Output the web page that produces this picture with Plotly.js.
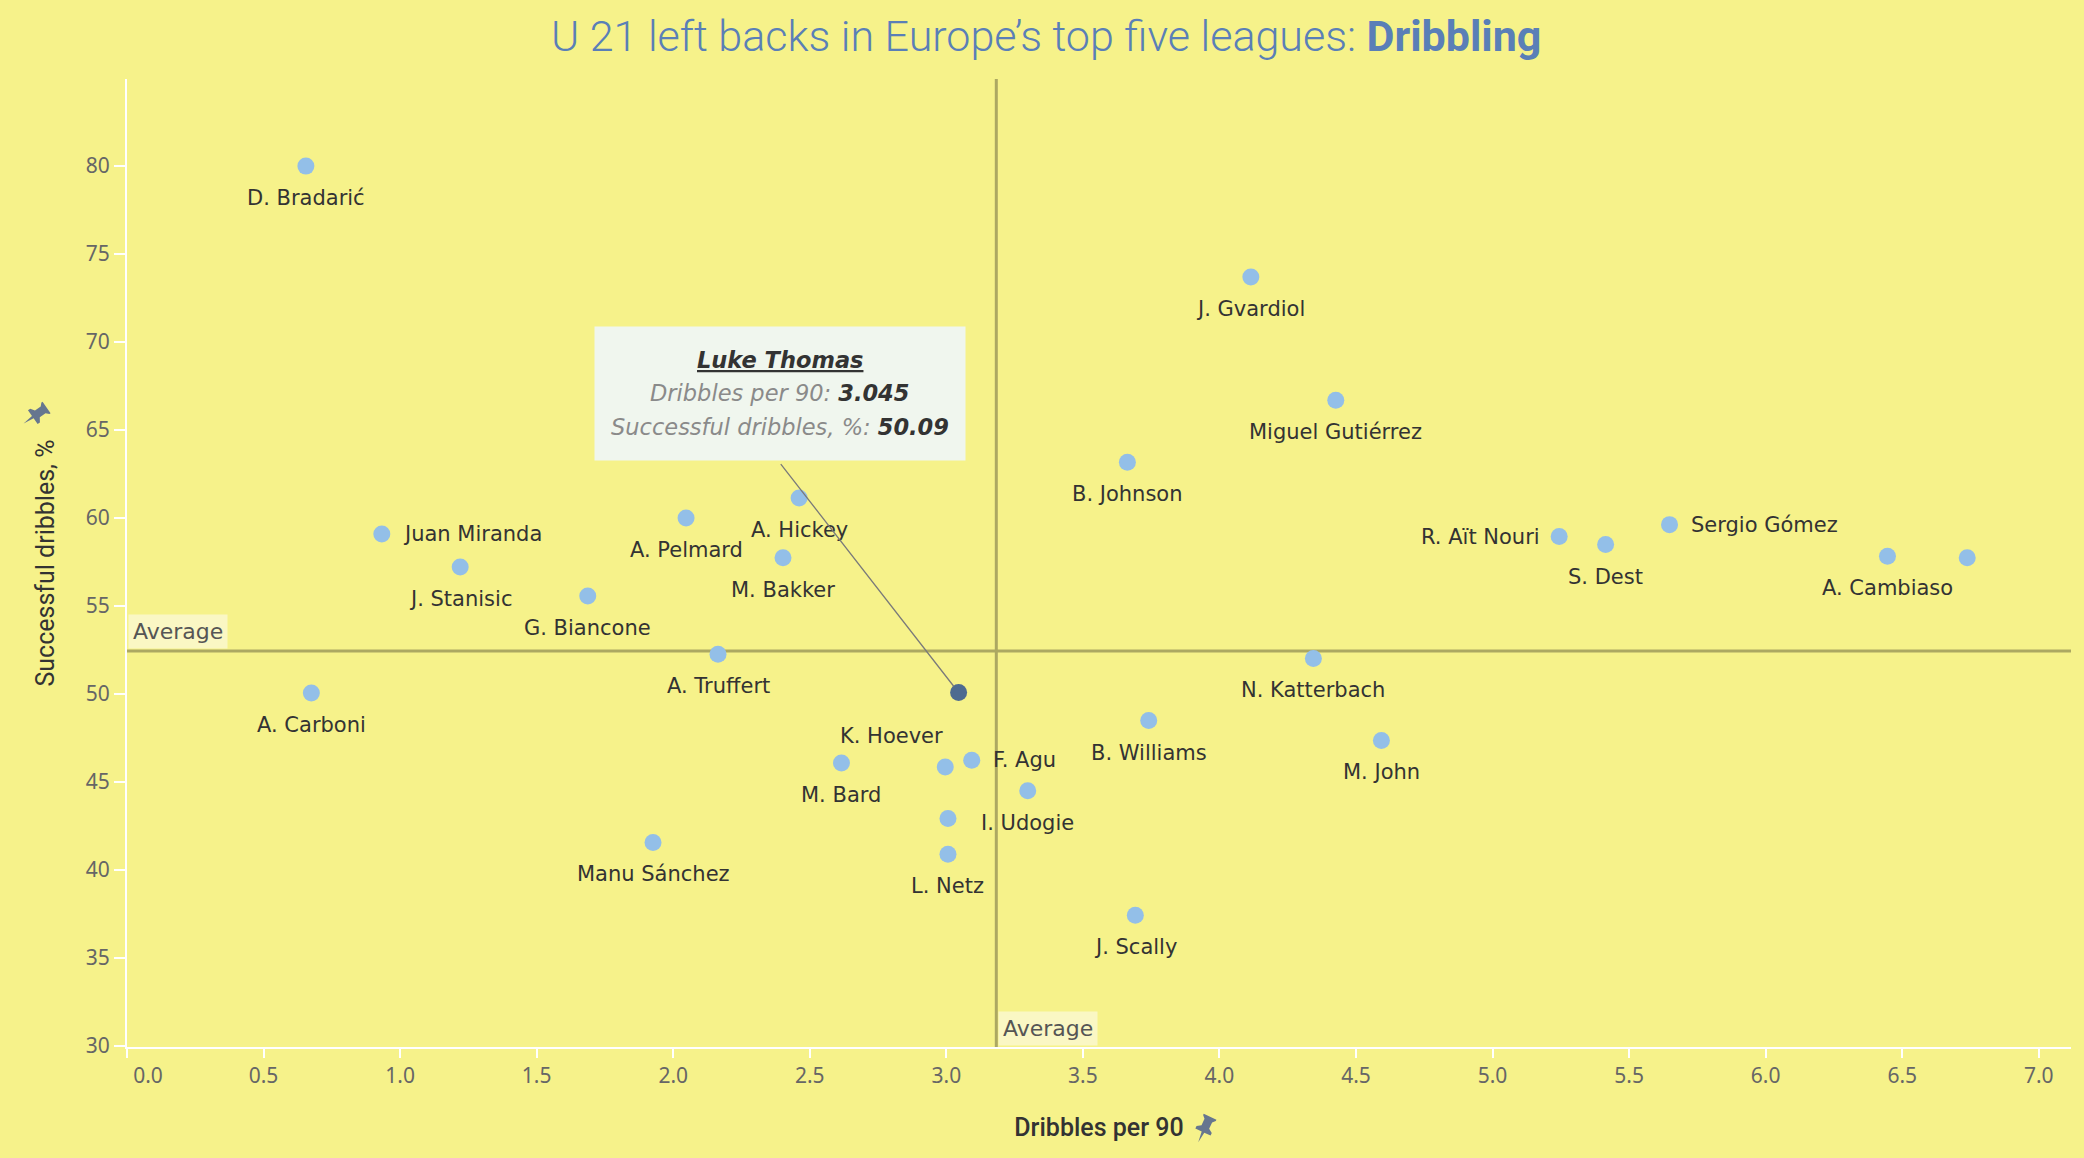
<!DOCTYPE html>
<html>
<head>
<meta charset="utf-8">
<script src="https://cdn.plot.ly/plotly-3.0.1.min.js"></script>
<style>html,body{margin:0;padding:0;background:#f6f28a;}</style>
</head>
<body>
<div id="chart" style="width:2084px;height:1158px;"></div>
<script>
// ---- Data ----
const players = [
  "D. Bradarić", "J. Gvardiol", "Miguel Gutiérrez", "B. Johnson", "Sergio Gómez",
  "R. Aït Nouri", "S. Dest", "A. Cambiaso", "", "Juan Miranda",
  "J. Stanisic", "A. Pelmard", "A. Hickey", "M. Bakker", "G. Biancone",
  "A. Truffert", "A. Carboni", "Luke Thomas", "K. Hoever", "F. Agu",
  "M. Bard", "I. Udogie", "", "L. Netz", "Manu Sánchez",
  "J. Scally", "B. Williams", "N. Katterbach", "M. John"
];
const dribblesPer90 = [
  0.655, 4.115, 4.426, 3.663, 5.648,
  5.244, 5.414, 6.446, 6.738, 0.933,
  1.220, 2.047, 2.461, 2.402, 1.687,
  2.164, 0.675, 3.045, 2.996, 3.093,
  2.616, 3.298, 3.006, 3.006, 1.926,
  3.692, 3.741, 4.344, 4.593
];
const successPct = [
  80.0, 73.7, 66.7, 63.17, 59.63,
  58.95, 58.5, 57.83, 57.75, 59.1,
  57.22, 60.01, 61.14, 57.75, 55.57,
  52.26, 50.07, 50.09, 45.86, 46.24,
  46.09, 44.51, 42.93, 40.9, 41.57,
  37.43, 48.5, 52.03, 47.37
];
// where each name label sits relative to its point (b = below, r = right, l = left, tl = above-left)
const labelPos = [
  "b","b","b","b","r",
  "l","b","b","","r",
  "b","b","b","b","b",
  "b","b","","tl","r",
  "b","b","","b","b",
  "b","b","b","b"
];
const xTicks = [0,0.5,1,1.5,2,2.5,3,3.5,4,4.5,5,5.5,6,6.5,7];
const yTicks = [30,35,40,45,50,55,60,65,70,75,80];
const avgDribbles = 3.183;
const avgSuccess = 52.45;
const highlighted = "Luke Thomas";

// ---- Styling ----
const BG = "#f6f28a";
const FONT = "Noto Sans, Open Sans, sans-serif";
const LFONT = "DejaVu Sans, Noto Sans, sans-serif";
const hi = players.indexOf(highlighted);

const colors = players.map((p, i) => i === hi ? "#4e6b90" : "#93bfe8");

const trace = {
  type: "scatter",
  mode: "markers",
  x: dribblesPer90,
  y: successPct,
  text: players,
  hoverinfo: "none",
  marker: { color: colors, size: 17, opacity: 1, line: { width: 0 } },
  cliponaxis: false
};

const annotations = [];
players.forEach((name, i) => {
  if (!name || !labelPos[i]) return;
  const a = {
    x: dribblesPer90[i], y: successPct[i], xref: "x", yref: "y",
    text: name, showarrow: false,
    font: { family: LFONT, size: 21, color: "#333333" },
    xanchor: "center", yanchor: "middle"
  };
  const p = labelPos[i];
  if (p === "b") { a.yshift = -32; }
  else if (p === "r") { a.xanchor = "left"; a.xshift = 19; }
  else if (p === "l") { a.xanchor = "right"; a.xshift = -17; }
  else if (p === "tl") { a.xshift = -54; a.yshift = 31; }
  annotations.push(a);
});

// Average labels
annotations.push({
  x: 0, xref: "paper", y: avgSuccess, yref: "y",
  text: "Average", showarrow: false, xanchor: "left", yanchor: "bottom",
  xshift: 1, yshift: 2, bgcolor: "#faf7c4", borderpad: 4,
  font: { family: LFONT, size: 22, color: "#555555" }
});
annotations.push({
  x: avgDribbles, xref: "x", y: 0, yref: "paper",
  text: "Average", showarrow: false, xanchor: "left", yanchor: "bottom",
  xshift: 2, yshift: 1, bgcolor: "#faf7c4", borderpad: 4,
  font: { family: LFONT, size: 22, color: "#555555" }
});

// Tooltip for highlighted player
const hx = dribblesPer90[hi], hy = successPct[hi];
annotations.push({
  x: hx, y: hy, xref: "x", yref: "y", showarrow: true, text: "",
  ax: -179, ay: -230, arrowhead: 0, arrowwidth: 1.3, arrowcolor: "#7a7a7a",
  standoff: 8
});
annotations.push({
  x: hx, y: hy, xref: "x", yref: "y", showarrow: false, text: " ",
  width: 370, height: 133, bgcolor: "#f0f6ee", borderpad: 0,
  xshift: -179, yshift: 299, xanchor: "center", yanchor: "middle",
  font: { family: FONT, size: 10 }
});
const tipFont = { family: LFONT, size: 22.5, color: "#333333" };
annotations.push({
  x: hx, y: hy, xref: "x", yref: "y", showarrow: false,
  text: "<b><i><u>" + players[hi] + "</u></i></b>",
  xshift: -179, yshift: 333, font: tipFont
});
annotations.push({
  x: hx, y: hy, xref: "x", yref: "y", showarrow: false,
  text: "<i><span style='color:#8a8a8a'>Dribbles per 90: </span><b>" + hx.toFixed(3) + "</b></i>",
  xshift: -179, yshift: 300, font: tipFont
});
annotations.push({
  x: hx, y: hy, xref: "x", yref: "y", showarrow: false,
  text: "<i><span style='color:#8a8a8a'>Successful dribbles, %: </span><b>" + hy.toFixed(2) + "</b></i>",
  xshift: -179, yshift: 266, font: tipFont
});

// pushpin icon path (pixel units, rotated)
function pinPath(deg, s) {
  const pts = [[0,-12],[-1,-4],[-6,-4],[-6,-2],[-3,0],[-3,5],[-5,7],[-5,8],[5,8],[5,7],[3,5],[3,0],[6,-2],[6,-4],[1,-4]];
  const t = deg * Math.PI / 180;
  return pts.map((p, k) => {
    const x = (p[0] * Math.cos(t) + p[1] * Math.sin(t)) * s;
    const y = (-p[0] * Math.sin(t) + p[1] * Math.cos(t)) * s;
    return (k ? "L" : "M") + x.toFixed(2) + "," + y.toFixed(2);
  }).join(" ") + " Z";
}

const shapes = [
  { type: "line", xref: "x", yref: "paper", x0: avgDribbles, x1: avgDribbles, y0: 0, y1: 1,
    line: { color: "#aca862", width: 3 }, layer: "below" },
  { type: "line", xref: "paper", yref: "y", x0: 0, x1: 1, y0: avgSuccess, y1: avgSuccess,
    line: { color: "#aca862", width: 3 }, layer: "below" },
  { type: "path", xref: "paper", yref: "paper", xsizemode: "pixel", ysizemode: "pixel",
    xanchor: -0.0461, yanchor: 0.654, path: pinPath(55, 1.4),
    fillcolor: "#66768f", line: { width: 0 } },
  { type: "path", xref: "paper", yref: "paper", xsizemode: "pixel", ysizemode: "pixel",
    xanchor: 0.5547, yanchor: -0.0826, path: pinPath(25, 1.4),
    fillcolor: "#66768f", line: { width: 0 } }
];

const layout = {
  width: 2084, height: 1158,
  paper_bgcolor: BG, plot_bgcolor: BG,
  margin: { l: 127, r: 13, t: 79, b: 111 },
  showlegend: false,
  hovermode: false,
  title: {
    text: "U 21 left backs in Europe’s top five leagues: <b>Dribbling</b>",
    x: 0.502, xanchor: "center", y: 0.969, yanchor: "middle",
    font: { family: "Roboto, sans-serif", size: 43, color: "#5a7fb7", weight: 300 }
  },
  xaxis: {
    range: [0, 7.118],
    tickvals: xTicks, ticktext: xTicks.map(v => (v === 0 ? "\u2002\u2002\u2002\u2002" : "") + v.toFixed(1)),
    showgrid: false, zeroline: false,
    showline: true, linecolor: "#ffffff", linewidth: 2,
    ticks: "outside", ticklen: 9, tickwidth: 2, tickcolor: "#ffffff",
    tickfont: { family: FONT, size: 21, color: "#666666" },
    title: { text: "Dribbles per 90", standoff: 30,
      font: { family: "Roboto, sans-serif", size: 25, color: "#333333", weight: 500 } }
  },
  yaxis: {
    range: [29.95, 84.95],
    tickvals: yTicks,
    showgrid: false, zeroline: false,
    showline: true, linecolor: "#ffffff", linewidth: 2,
    ticks: "outside", ticklen: 11, tickwidth: 2, tickcolor: "#ffffff",
    tickfont: { family: FONT, size: 21, color: "#666666" },
    title: { text: "Successful dribbles, %", standoff: 24,
      font: { family: "Roboto, sans-serif", size: 25, color: "#333333" } }
  },
  annotations: annotations,
  shapes: shapes
};

Plotly.newPlot("chart", [trace], layout, { displayModeBar: false, staticPlot: true });
</script>
</body>
</html>
